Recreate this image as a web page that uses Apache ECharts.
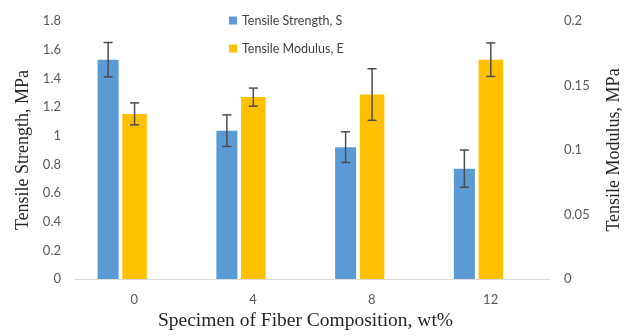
<!DOCTYPE html>
<html>
<head>
<meta charset="utf-8">
<script src="https://cdn.jsdelivr.net/npm/echarts@6/dist/echarts.min.js"></script>
<style>html,body{margin:0;padding:0;background:#fff}#c{width:631px;height:336px}</style>
</head>
<body>
<div id="c"></div>
<script>
// ---- data ----
const categories = ['0', '4', '8', '12'];
const strength = [1.53, 1.035, 0.92, 0.77];          // MPa (left axis)
const strengthErr = [0.12, 0.11, 0.107, 0.13];
const modulus = [0.128, 0.141, 0.143, 0.170];        // MPa (right axis)
const modulusErr = [0.0085, 0.007, 0.02, 0.013];
const leftTicks = {min: 0, max: 1.8, interval: 0.2};
const rightTicks = {min: 0, max: 0.2, interval: 0.05};

// ---- styles ----
const BLUE = '#5B9BD5', YELLOW = '#FFC000', ERR = '#4d4d4d';
const barWidths = [21, 24.5, 20];   // third is an empty placeholder slot (as in the source chart)
const barGapPct = 0.176;

// bar offsets from category center, following ECharts' own bar layout rule
function barCenters() {
  let sum = 0;
  barWidths.forEach(w => sum += w * (1 + barGapPct));
  sum -= barWidths[barWidths.length - 1] * barGapPct;
  let off = -sum / 2;
  const res = [];
  barWidths.forEach(w => { res.push(off + w / 2); off += w * (1 + barGapPct); });
  return res;
}
const centers = barCenters();

function errRender(vals, errs, sIdx) {
  return function (params, api) {
    const i = api.value(0);
    const v = vals[i], e = errs[i];
    const top = api.coord([i, v + e]);
    const bot = api.coord([i, v - e]);
    const x = top[0] + centers[sIdx];
    const cap = 4.5;
    const st = {stroke: ERR, lineWidth: 1.5};
    return {type: 'group', children: [
      {type: 'line', shape: {x1: x, y1: top[1], x2: x, y2: bot[1]}, style: st},
      {type: 'line', shape: {x1: x - cap, y1: top[1], x2: x + cap, y2: top[1]}, style: st},
      {type: 'line', shape: {x1: x - cap, y1: bot[1], x2: x + cap, y2: bot[1]}, style: st}
    ]};
  };
}

const chart = echarts.init(document.getElementById('c'), null, {renderer: 'canvas'});
const tickFont = {color: '#595959', fontFamily: 'Lato', fontSize: 13};
const titleFont = {color: '#262626', fontFamily: 'Liberation Serif', fontSize: 18};

chart.setOption({
  animation: false,
  backgroundColor: '#fff',
  grid: {left: 75, right: 78, top: 21, bottom: 52, containLabel: false},
  legend: {
    orient: 'vertical', left: 224, top: 9,
    itemWidth: 8, itemHeight: 8, itemGap: 15, icon: 'rect',
    data: ['Tensile Strength, S', 'Tensile Modulus, E'],
    textStyle: {color: '#404040', fontFamily: 'Lato', fontSize: 12.5}
  },
  xAxis: {
    type: 'category', data: categories,
    axisLine: {lineStyle: {color: '#d9d9d9', width: 1}},
    axisTick: {show: false},
    axisLabel: {...tickFont, margin: 14},
    name: 'Specimen of Fiber Composition, wt%',
    nameLocation: 'middle', nameGap: 32,
    nameTextStyle: {...titleFont, fontSize: 19.5, padding: [0, 14, 0, 0]}
  },
  yAxis: [
    {
      type: 'value', ...leftTicks,
      axisLine: {show: false}, axisTick: {show: false}, splitLine: {show: false},
      axisLabel: {...tickFont, margin: 14},
      name: 'Tensile Strength, MPa', nameLocation: 'middle', nameGap: 41,
      nameTextStyle: {...titleFont}
    },
    {
      type: 'value', ...rightTicks, position: 'right',
      axisLine: {show: false}, axisTick: {show: false}, splitLine: {show: false},
      axisLabel: {...tickFont, margin: 14},
      name: 'Tensile Modulus, MPa', nameLocation: 'middle', nameGap: 55,
      nameTextStyle: {...titleFont}
    }
  ],
  series: [
    {name: 'Tensile Strength, S', type: 'bar', yAxisIndex: 0, data: strength,
     barWidth: barWidths[0], barGap: (barGapPct * 100) + '%', itemStyle: {color: BLUE}},
    {name: 'Tensile Modulus, E', type: 'bar', yAxisIndex: 1, data: modulus,
     barWidth: barWidths[1], barGap: (barGapPct * 100) + '%', itemStyle: {color: YELLOW}},
    {name: 'placeholder', type: 'bar', yAxisIndex: 0, data: categories.map(() => null),
     barWidth: barWidths[2], barGap: (barGapPct * 100) + '%'},
    {type: 'custom', yAxisIndex: 0, data: strength.map((v, i) => [i, v]),
     renderItem: errRender(strength, strengthErr, 0), z: 5, silent: true},
    {type: 'custom', yAxisIndex: 1, data: modulus.map((v, i) => [i, v]),
     renderItem: errRender(modulus, modulusErr, 1), z: 5, silent: true}
  ]
});
</script>
</body>
</html>
